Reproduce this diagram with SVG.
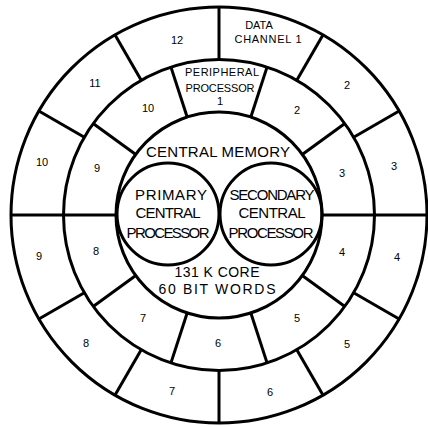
<svg xmlns="http://www.w3.org/2000/svg" width="428" height="427" viewBox="0 0 428 427">
<style>
.ring{fill:none;stroke:#000;stroke-width:3}
.div{stroke:#000;stroke-width:3;stroke-linecap:butt}
text{font-family:"Liberation Sans",Arial,sans-serif;fill:#000;text-anchor:middle}
.num{font-size:11px}
.small{font-size:11px}
.big{font-size:15px}
.mid{font-size:14px}
</style>
<defs>
<line id="od" class="div" x1="219" y1="60" x2="219" y2="6"/>
<line id="pd" class="div" x1="219" y1="113" x2="219" y2="59"/>
</defs>
<rect width="428" height="427" fill="#fff"/>
<g id="rings">
<circle class="ring" cx="219" cy="215" r="208"/>
<circle class="ring" cx="219" cy="215" r="155.5"/>
</g>
<g id="connectors">
<use href="#od"/>
<use href="#od" transform="rotate(30 219 215)"/>
<use href="#od" transform="rotate(60 219 215)"/>
<use href="#od" transform="rotate(90 219 215)"/>
<use href="#od" transform="rotate(120 219 215)"/>
<use href="#od" transform="rotate(150 219 215)"/>
<use href="#od" transform="rotate(180 219 215)"/>
<use href="#od" transform="rotate(210 219 215)"/>
<use href="#od" transform="rotate(240 219 215)"/>
<use href="#od" transform="rotate(270 219 215)"/>
<use href="#od" transform="rotate(300 219 215)"/>
<use href="#od" transform="rotate(330 219 215)"/>
<use href="#pd" transform="rotate(18 219 215)"/>
<use href="#pd" transform="rotate(54 219 215)"/>
<use href="#pd" transform="rotate(90 219 215)"/>
<use href="#pd" transform="rotate(126 219 215)"/>
<use href="#pd" transform="rotate(162 219 215)"/>
<use href="#pd" transform="rotate(198 219 215)"/>
<use href="#pd" transform="rotate(234 219 215)"/>
<use href="#pd" transform="rotate(270 219 215)"/>
<use href="#pd" transform="rotate(306 219 215)"/>
<use href="#pd" transform="rotate(342 219 215)"/>
</g>
<g id="data-channels">
<text class="small" x="259" y="29">DATA</text>
<text class="small" x="268" y="43" textLength="67">CHANNEL 1</text>
<text class="num" x="347" y="89">2</text>
<text class="num" x="394" y="170">3</text>
<text class="num" x="397" y="261">4</text>
<text class="num" x="347" y="348">5</text>
<text class="num" x="270" y="396">6</text>
<text class="num" x="172" y="395">7</text>
<text class="num" x="86" y="347">8</text>
<text class="num" x="39" y="260">9</text>
<text class="num" x="42" y="166">10</text>
<text class="num" x="95" y="87">11</text>
<text class="num" x="177" y="44">12</text>
</g>
<g id="peripheral-processors">
<text class="small" x="222" y="76" textLength="74">PERIPHERAL</text>
<text class="small" x="220" y="92" textLength="69">PROCESSOR</text>
<text class="small" x="220" y="105">1</text>
<text class="num" x="297" y="114">2</text>
<text class="num" x="342" y="177">3</text>
<text class="num" x="342" y="256">4</text>
<text class="num" x="297" y="322">5</text>
<text class="num" x="218" y="347">6</text>
<text class="num" x="143" y="322">7</text>
<text class="num" x="96" y="255">8</text>
<text class="num" x="97" y="172">9</text>
<text class="num" x="148" y="112">10</text>
</g>
<g id="central-memory">
<circle class="ring" cx="219" cy="215" r="103"/>
<text class="big" x="218" y="157" textLength="144">CENTRAL MEMORY</text>
<text class="mid" x="217" y="277" textLength="85">131 K CORE</text>
<text class="mid" x="217" y="294" textLength="117">60 BIT WORDS</text>
</g>
<g id="primary-central-processor">
<circle class="ring" cx="168" cy="214" r="51"/>
<text class="big" x="171" y="200" textLength="72">PRIMARY</text>
<text class="big" x="168" y="218" textLength="65">CENTRAL</text>
<text class="big" x="168" y="238" textLength="83">PROCESSOR</text>
</g>
<g id="secondary-central-processor">
<circle class="ring" cx="271" cy="214" r="51"/>
<text class="big" x="272" y="200" textLength="85">SECONDARY</text>
<text class="big" x="272" y="218" textLength="67">CENTRAL</text>
<text class="big" x="271" y="238" textLength="85">PROCESSOR</text>
</g>
</svg>
